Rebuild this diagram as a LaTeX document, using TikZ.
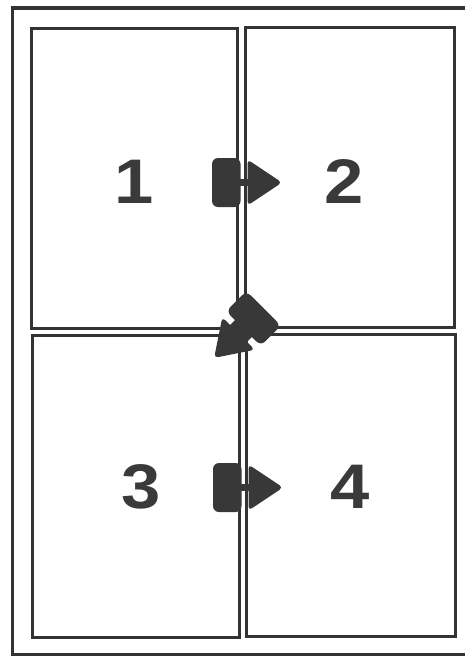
\documentclass[tikz,border=0pt]{standalone}
\usepackage{fontspec}
\setmainfont{Liberation Sans}
\newfontfamily\digitfont[FakeStretch=1.12]{Liberation Sans Bold}
\definecolor{ink}{HTML}{333333}
\definecolor{arrowink}{HTML}{383838}
\definecolor{digitink}{HTML}{3A3A3A}
\begin{document}
\begin{tikzpicture}[x=1pt,y=-1pt,
  box/.style={draw=ink, line width=3pt, rectangle, inner sep=0pt},
  digit/.style={text=digitink, font=\digitfont\fontsize{63}{63}\selectfont, inner sep=0pt},
  frame/.style={draw=ink, line width=3.5pt},
  pics/bigarrow/.style={code={
    \fill[arrowink, rounded corners=6pt] (-32,-24.5) rectangle (-3.5,24.5);
    \fill[arrowink, rounded corners=4pt] (3.5,-23) -- (38,0) -- (3.5,23) -- cycle;
    \fill[arrowink] (-5,-#1) rectangle (5,#1);
  }}]
\useasboundingbox (0,0) rectangle (465,656);
\fill[white] (0,0) rectangle (465,656);
% outer frame (right side runs off the page)
\draw[frame] (468,8) -- (12.5,8) -- (12.5,654.5) -- (468,654.5);
% boxes
\node[box, minimum width=206pt, minimum height=300pt] (b1) at (134,178) {};
\node[box, minimum width=209pt, minimum height=300pt] (b2) at (349.5,177) {};
\node[box, minimum width=207pt, minimum height=301.5pt] (b3) at (135.5,486.25) {};
\node[box, minimum width=209pt, minimum height=302pt] (b4) at (350.5,485) {};
% digits
\node[digit] (n1) at (134.5,181.5) {1};
\node[digit] (n2) at (344,181.5) {2};
\node[digit] (n3) at (141.5,486.5) {3};
\node[digit] (n4) at (350.5,486.5) {4};
% arrows
\coordinate (a12) at (244,182.5);
\coordinate (a23) at (241,331);
\coordinate (a34) at (245,487.5);
\pic at (a12) {bigarrow=3.5};
\pic[rotate=225] at (a23) {bigarrow=12};
\pic at (a34) {bigarrow=3.5};
\end{tikzpicture}
\end{document}
